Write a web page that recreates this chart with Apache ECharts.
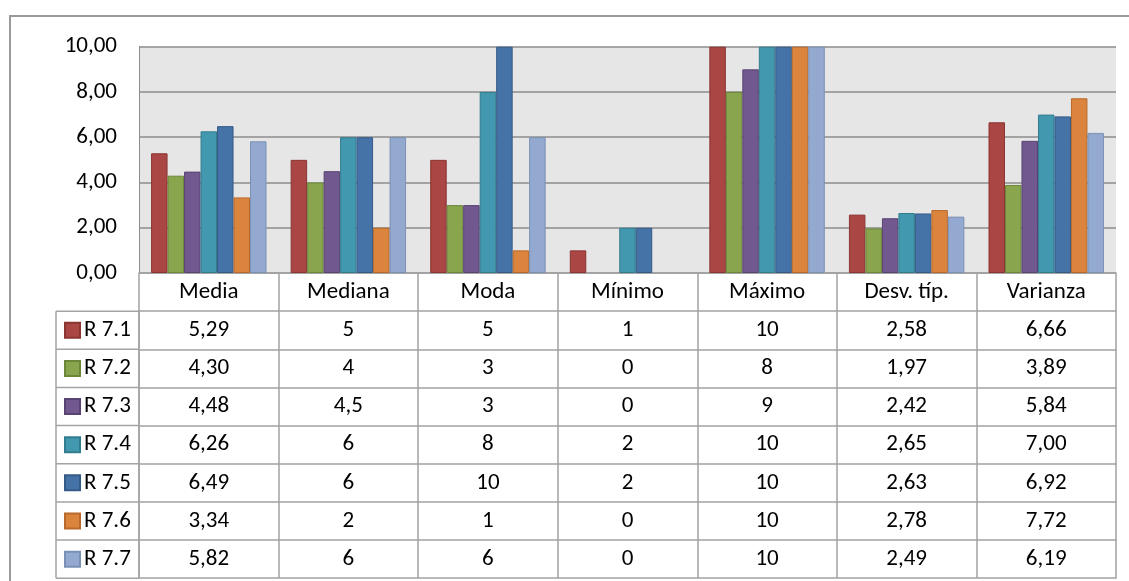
<!DOCTYPE html>
<html>
<head>
<meta charset="utf-8">
<script src="https://cdn.jsdelivr.net/npm/echarts@6/dist/echarts.min.js"></script>
<style>
html,body{margin:0;padding:0;background:#fff;}
#chart{width:1129px;height:581px;}
</style>
</head>
<body>
<div id="chart"></div>
<script>
const categories = ['Media', 'Mediana', 'Moda', 'Mínimo', 'Máximo', 'Desv. típ.', 'Varianza'];
const seriesNames = ['R 7.1', 'R 7.2', 'R 7.3', 'R 7.4', 'R 7.5', 'R 7.6', 'R 7.7'];
const r71 = [5.29, 5, 5, 1, 10, 2.58, 6.66];
const r72 = [4.30, 4, 3, 0, 8, 1.97, 3.89];
const r73 = [4.48, 4.5, 3, 0, 9, 2.42, 5.84];
const r74 = [6.26, 6, 8, 2, 10, 2.65, 7.00];
const r75 = [6.49, 6, 10, 2, 10, 2.63, 6.92];
const r76 = [3.34, 2, 1, 0, 10, 2.78, 7.72];
const r77 = [5.82, 6, 6, 0, 10, 2.49, 6.19];
const decimals = [2, null, null, null, null, 2, 2];
const yTicks = [0, 2, 4, 6, 8, 10];

const seriesData = [r71, r72, r73, r74, r75, r76, r77];
const colors = ['#AA4643', '#89A54E', '#71588F', '#4198AF', '#4572A7', '#DB843D', '#93A9CF'];
const borders = ['#8A3533', '#6C863A', '#584472', '#327C8F', '#345A88', '#B8692B', '#7A90B5'];

const FONT = 'Calibri, Carlito, Lato, sans-serif';
const FS = 23;
const plotLeft = 139, plotRight = 1116, plotTop = 46.7, plotBottom = 273;
const rowH = 38.15;
const legendLeft = 56;
const lineCol = '#a3a3a3';

function fmt(v, i) {
  const s = decimals[i] != null ? v.toFixed(decimals[i]) : String(v);
  return s.replace('.', ',');
}

const xAxes = [{
  type: 'category', data: categories, gridIndex: 0, position: 'bottom',
  axisLine: { show: true, lineStyle: { color: lineCol, width: 1.5 } },
  axisTick: { show: true, length: rowH, lineStyle: { color: lineCol, width: 1.5 } },
  axisLabel: { color: '#000', fontFamily: FONT, fontSize: FS, lineHeight: 24, margin: 7 }
}];
seriesData.forEach((arr, k) => {
  xAxes.push({
    type: 'category', data: categories, gridIndex: 0, position: 'bottom',
    offset: rowH * (k + 1),
    axisLine: { show: true, lineStyle: { color: lineCol, width: 1.5 } },
    axisTick: { show: true, length: rowH, lineStyle: { color: lineCol, width: 1.5 } },
    axisLabel: { color: '#000', fontFamily: FONT, fontSize: FS, lineHeight: 24, margin: 7,
      formatter: (val, idx) => fmt(arr[idx], idx) }
  });
});
xAxes.push({
  type: 'category', data: categories, gridIndex: 0, position: 'bottom',
  offset: rowH * 8,
  axisLine: { show: true, lineStyle: { color: lineCol, width: 1.5 } },
  axisTick: { show: false }, axisLabel: { show: false }
});

const series = seriesData.map((arr, k) => ({
  name: seriesNames[k], type: 'bar', xAxisIndex: 0,
  data: arr.map(v => v === 0 ? { value: v, itemStyle: { borderWidth: 0 } } : v),
  barGap: '0%', barCategoryGap: '17.3%',
  itemStyle: { color: colors[k], borderColor: borders[k], borderWidth: 1 },
  emphasis: { disabled: true }
}));

const tableTop = plotBottom + rowH;
const tableBottom = plotBottom + rowH * 8;
const legends = seriesNames.map((name, k) => ({
  orient: 'vertical', left: 64, top: tableTop + rowH * k + (rowH - FS) / 2,
  padding: 0, itemWidth: 15, itemHeight: 15, itemGap: 0,
  icon: 'rect', selectedMode: false,
  textStyle: { color: '#000', fontFamily: FONT, fontSize: FS, padding: [0, 0, 0, -1] },
  data: [name]
}));

const graphics = [];
graphics.push({ type: 'line', shape: { x1: legendLeft, y1: tableTop, x2: legendLeft, y2: tableBottom },
  style: { stroke: lineCol, lineWidth: 1.5 } });
for (let k = 0; k <= 7; k++) {
  const y = tableTop + rowH * k;
  graphics.push({ type: 'line', shape: { x1: legendLeft, y1: y, x2: plotLeft, y2: y },
    style: { stroke: lineCol, lineWidth: 1.5 } });
}
graphics.push({ type: 'line', shape: { x1: plotLeft, y1: tableTop, x2: plotLeft, y2: tableBottom },
  style: { stroke: lineCol, lineWidth: 1.5 } });
graphics.push({ type: 'rect', shape: { x: 10, y: 16, width: 1200, height: 700 },
  style: { fill: null, stroke: '#9a9a9a', lineWidth: 2 }, z: 100 });

const chart = echarts.init(document.getElementById('chart'), null, { renderer: 'canvas' });
chart.setOption({
  animation: false,
  backgroundColor: '#fff',
  grid: { left: plotLeft, right: 1129 - plotRight, top: plotTop, bottom: 581 - plotBottom,
    show: true, backgroundColor: '#E6E6E6', borderWidth: 0 },
  xAxis: xAxes,
  yAxis: {
    type: 'value', min: 0, max: 10, interval: 2,
    axisLine: { show: true, lineStyle: { color: '#8c8c8c', width: 1 } },
    axisTick: { show: false },
    splitLine: { show: true, lineStyle: { color: '#8c8c8c', width: 1.5 } },
    axisLabel: { color: '#000', fontFamily: FONT, fontSize: FS, margin: 22,
      formatter: v => yTicks.indexOf(v) >= 0 ? v.toFixed(2).replace('.', ',') : '' }
  },
  legend: legends,
  graphic: graphics,
  series: series
});
</script>
</body>
</html>
